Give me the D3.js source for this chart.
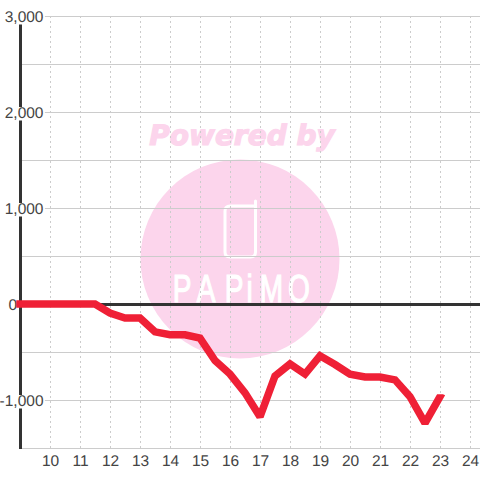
<!DOCTYPE html>
<html>
<head>
<meta charset="utf-8">
<style>
  html, body { margin: 0; padding: 0; background: #fff; }
  svg { display: block; }
  text { font-family: "Liberation Sans", sans-serif; text-rendering: geometricPrecision; }
</style>
<script src="https://cdn.jsdelivr.net/npm/d3@7"></script>
</head>
<body>
<svg id="chart" width="480" height="480"></svg>
<script>
const hours = [9, 9.5, 10, 10.5, 11, 11.5, 12, 12.5, 13, 13.5, 14, 14.5, 15, 15.5, 16, 16.5,
  17, 17.5, 18, 18.5, 19, 19.5, 20, 20.5, 21, 21.5, 22, 22.5, 23];
const balance = [0, 0, 0, 0, 0, 0, -94, -146, -146, -290, -320, -320, -355, -590, -730, -925,
  -1175, -750, -625, -730, -540, -630, -730, -760, -760, -790, -965, -1240, -965];
const xTicks = [10, 11, 12, 13, 14, 15, 16, 17, 18, 19, 20, 21, 22, 23, 24];
const yTicks = [3000, 2500, 2000, 1500, 1000, 500, 0, -500, -1000, -1500];
const logoLetters = ['P', 'A', 'P', 'i', 'M', 'O'];
const logoCenters = [182, 206, 234, 249.5, 271.5, 299];

const pink = '#fcd5ec';
const gridColor = '#ccc';
const inkColor = '#333';

const svg = d3.select('#chart');
const x = d3.scaleLinear().domain([9, 24]).range([20, 470]);
const y = d3.scaleLinear().domain([3000, -1500]).range([16, 448]);

// watermark sits under the grid
const mark = svg.append('g');
mark.append('circle').attr('cx', 240).attr('cy', 259).attr('r', 99.5).attr('fill', pink);
mark.append('text')
  .attr('x', 242).attr('y', 145)
  .attr('text-anchor', 'middle')
  .style('font-family', '"DejaVu Sans"')
  .style('font-weight', 'bold')
  .style('font-style', 'italic')
  .style('font-size', '28px')
  .attr('fill', pink)
  .attr('stroke', pink)
  .attr('stroke-width', 1.2)
  .text('Powered by');
mark.append('path')
  .attr('d', 'M255.5 201V252q0 5-5 5H230q-5 0-5-5V211q0-5 5-5H255')
  .attr('fill', 'none').attr('stroke', '#fff').attr('stroke-width', 3).attr('stroke-linecap', 'round');
mark.selectAll('.logo-letter')
  .data(logoLetters)
  .join('text')
  .attr('class', 'logo-letter')
  .attr('transform', (d, i) => `translate(${logoCenters[i]},302) scale(0.72,1)`)
  .attr('text-anchor', 'middle')
  .style('font-size', '39px')
  .attr('fill', '#fff')
  .attr('stroke', '#fff')
  .attr('stroke-width', 1.2)
  .text(d => d);

// left axis goes under the labels, they cut gaps into it
svg.append('line')
  .attr('x1', 20.5).attr('x2', 20.5)
  .attr('y1', y(3000)).attr('y2', y(-1500) + 1)
  .attr('stroke', inkColor).attr('stroke-width', 3);

const xAxis = svg.append('g')
  .attr('transform', `translate(0,${y(-1500)})`)
  .call(d3.axisBottom(x).tickValues(xTicks).tickSize(-(y(-1500) - y(3000))).tickPadding(0).tickFormat(d => d));
xAxis.select('.domain').remove();
xAxis.selectAll('line')
  .attr('stroke', gridColor)
  .attr('stroke-dasharray', '2,3');
xAxis.selectAll('text')
  .attr('y', 18).attr('dy', 0)
  .style('font-size', '15.5px')
  .attr('fill', '#444');

// plain hyphen for negatives, d3.format would give a wider minus sign
const yLabel = d => d % 1000 === 0 && d > -1500 ? d3.format(',')(d).replace('\u2212', '-') : '';
const yAxis = svg.append('g')
  .attr('transform', 'translate(22,0)')
  .call(d3.axisRight(y).tickValues(yTicks).tickSize(458).tickFormat(yLabel));
yAxis.select('.domain').remove();
yAxis.selectAll('line').attr('stroke', gridColor);
yAxis.selectAll('text')
  .attr('text-anchor', 'end')
  .attr('x', d => d === 0 ? -5 : 21.5)
  .attr('dy', 5)
  .style('font-size', '15.5px')
  .attr('fill', '#444');
yAxis.selectAll('.tick').each(function () {
  const label = d3.select(this).select('text');
  if (!label.text()) return;
  const box = label.node().getBBox();
  d3.select(this).insert('rect', 'text')
    .attr('x', box.x - 1).attr('width', box.width + 2)
    .attr('y', -5.5).attr('height', 13.5)
    .attr('fill', '#fff');
});

// zero line
svg.append('line')
  .attr('x1', x(9)).attr('x2', 480)
  .attr('y1', y(0) + 0.5).attr('y2', y(0) + 0.5)
  .attr('stroke', inkColor).attr('stroke-width', 3);

// the last segment ends in a flat horizontal cut, not a square cap
const lastHour = hours[hours.length - 1];
const lastY = y(balance[balance.length - 1]) - 2.5;
const clip = svg.append('clipPath').attr('id', 'line-clip');
clip.append('rect').attr('x', 0).attr('y', 0).attr('width', x(lastHour - 0.5)).attr('height', 480);
clip.append('rect').attr('x', x(lastHour - 0.5)).attr('y', lastY).attr('width', 60).attr('height', 480 - lastY);

const line = d3.line()
  .x(d => x(d[0]))
  .y(d => y(d[1]));
svg.append('path')
  .datum(d3.zip(hours, balance))
  .attr('d', line)
  .attr('clip-path', 'url(#line-clip)')
  .attr('fill', 'none')
  .attr('stroke', '#ef2036')
  .attr('stroke-width', 7.5)
  .attr('stroke-linecap', 'square')
  .attr('stroke-linejoin', 'miter')
  .attr('stroke-miterlimit', 2);
</script>
</body>
</html>
